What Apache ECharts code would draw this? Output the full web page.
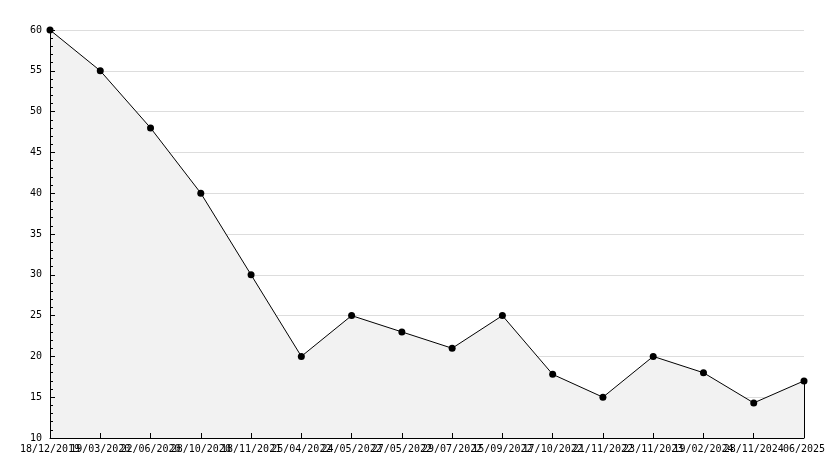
<!DOCTYPE html>
<html>
<head>
<meta charset="utf-8">
<script src="https://cdn.jsdelivr.net/npm/echarts@6/dist/echarts.min.js"></script>
<style>
html,body{margin:0;padding:0;background:#fff;}
#chart{width:834px;height:468px;}
</style>
</head>
<body>
<div id="chart"></div>
<script>
const categories = ['18/12/2019','19/03/2020','22/06/2020','28/10/2020','18/11/2021','25/04/2022','24/05/2022','27/05/2022','29/07/2022','15/09/2022','17/10/2022','21/11/2022','23/11/2023','19/02/2024','28/11/2024','06/2025'];
const values = [60, 55, 48, 40, 30, 20, 25, 23, 21, 25, 17.8, 15, 20, 18, 14.3, 17];
const yMin = 10, yMax = 60, yStep = 5;

const chart = echarts.init(document.getElementById('chart'), null, {renderer: 'canvas'});
const font = {fontFamily: 'DejaVu Sans Mono', fontSize: 10, color: '#000'};
chart.setOption({
  animation: false,
  backgroundColor: '#fff',
  grid: {left: 50, right: 30, top: 30, bottom: 30, containLabel: false},
  xAxis: {
    type: 'category',
    data: categories,
    boundaryGap: false,
    z: 5,
    axisLine: {show: true, lineStyle: {color: '#000', width: 1}},
    axisTick: {show: true, inside: true, length: 5, lineStyle: {color: '#000'}},
    axisLabel: Object.assign({interval: 0, margin: 6, hideOverlap: false}, font),
    splitLine: {show: false}
  },
  yAxis: [{
    type: 'value',
    min: yMin, max: yMax, interval: yStep,
    z: 0,
    axisLine: {show: false},
    axisTick: {show: false},
    axisLabel: {show: false},
    splitLine: {show: true, lineStyle: {color: '#dddddd', width: 1}}
  }, {
    type: 'value',
    position: 'left',
    min: yMin, max: yMax, interval: yStep,
    z: 5,
    axisLine: {show: true, onZero: false, lineStyle: {color: '#000', width: 1}},
    axisTick: {show: true, inside: true, length: 5, lineStyle: {color: '#000'}},
    minorTick: {show: true, splitNumber: 5, length: 3, lineStyle: {color: '#000'}},
    axisLabel: Object.assign({margin: 8}, font),
    splitLine: {show: false}
  }],
  series: [{
    type: 'line',
    yAxisIndex: 0,
    data: values,
    z: 2,
    symbol: 'circle',
    symbolSize: 7,
    showAllSymbol: true,
    itemStyle: {color: '#000'},
    lineStyle: {color: '#000', width: 1},
    areaStyle: {color: '#f2f2f2', opacity: 1, origin: 'start'},
    markLine: {
      silent: true,
      symbol: 'none',
      label: {show: false},
      lineStyle: {color: '#000', width: 1, type: 'solid'},
      data: [[{coord: [categories[categories.length-1], yMin]}, {coord: [categories[categories.length-1], values[values.length-1]]}]]
    }
  }]
});
</script>
</body>
</html>
